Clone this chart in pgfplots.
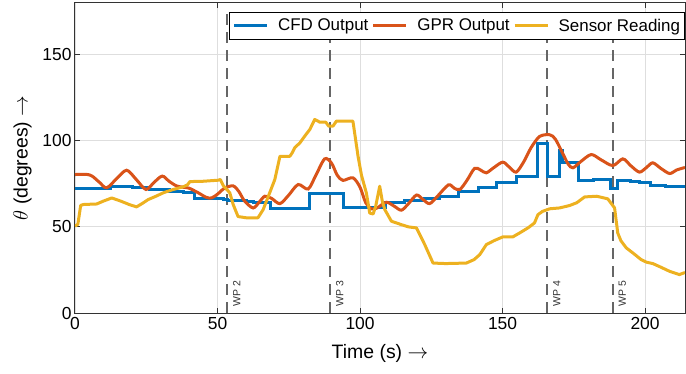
\documentclass[border=0pt]{standalone}
\usepackage{fontspec}
\setmainfont{Liberation Sans}
\usepackage{pgfplots}
\pgfplotsset{compat=1.18}
\definecolor{mblue}{rgb}{0,0.447,0.741}
\definecolor{morange}{rgb}{0.85,0.325,0.098}
\definecolor{myellow}{rgb}{0.929,0.694,0.125}
\begin{document}
\begin{tikzpicture}
\begin{axis}[
  width=610bp, height=310bp, scale only axis,
  xmin=0, xmax=214, ymin=0, ymax=180,
  xtick={0,50,100,150,200}, ytick={0,50,100,150},
  grid=major, major grid style={draw=black!13, line width=0.8bp},
  axis line style={draw=black!80, line width=1bp},
  tick style={draw=black!80, line width=1bp}, major tick length=5bp, tick align=inside,
  /pgf/number format/assume math mode=true,
  tick label style={font=\fontsize{17.5}{20}\selectfont},
  xticklabel style={yshift=-1bp},
  label style={font=\fontsize{19.5}{22}\selectfont},
  xlabel={Time (s) $\rightarrow$}, ylabel={$\theta$ (degrees) $\rightarrow$},
  xlabel style={yshift=-8bp},
  ylabel style={yshift=4bp},
  legend columns=3,
  legend style={at={(1,0.971)}, anchor=north east, draw=black, line width=0.8bp, fill=white,
    font=\fontsize{17}{20}\selectfont, inner xsep=3bp, inner ysep=5bp,
    nodes={inner sep=1.5bp},
    /tikz/every even column/.append style={column sep=2bp},
    /tikz/every odd column/.append style={column sep=8bp}},
  legend image code/.code={\draw[#1, line width=3bp] (0bp,0bp) -- (33bp,0bp);},
]
% waypoint lines
\addplot[forget plot, black!60, line width=2bp, dash pattern=on 11bp off 7bp] coordinates {(53.3,0) (53.3,175)};
\addplot[forget plot, black!60, line width=2bp, dash pattern=on 11bp off 7bp] coordinates {(89.5,0) (89.5,175)};
\addplot[forget plot, black!60, line width=2bp, dash pattern=on 11bp off 7bp] coordinates {(165.6,0) (165.6,175)};
\addplot[forget plot, black!60, line width=2bp, dash pattern=on 11bp off 7bp] coordinates {(188.6,0) (188.6,175)};

% CFD output
\addplot[const plot, mblue, line width=3bp] coordinates {
(0,72)(12.3,73.3)(20,72.7)(26,71.7)(33,70.7)(38,69.8)(42,66.4)(52,66)(53.5,65.3)(60,64.7)(62.5,64)
(68.6,60.8)(82.3,69.4)(94.3,61)(109,64)(115.7,65.5)(122.7,66.5)(128,67.8)(134.4,70.3)(141.4,72.6)
(148,76)(155,79.4)(162.3,98.4)(165.9,79.4)(170,94.5)(171,87.2)(176.8,77)(182,77.8)(185,77.3)
(188,72)(190.4,77)(195,76.2)(198,75.5)(202,73.8)(207,73.2)(214,72.5)};
\addlegendentry{CFD Output}

% GPR output
\addplot[smooth, morange, line width=3bp] coordinates {
(0,80.4)(4,80.5)(6,79.5)(8.5,76)(11.1,72.7)(14.5,77.8)(18.1,82.9)(21.5,77.5)(24.9,71.7)(27.7,75.8)
(30.6,79.5)(33,76.5)(35.6,73.8)(38,73)(40,72.5)(43,70)(46,67.2)(47.9,66.8)(50,69)(52.5,72.5)
(55.5,73.8)(57.5,70.5)(59.5,65)(62.5,61)(64.7,64.5)(66.6,67.8)(69,66.5)(71.9,63.5)(75,68.5)
(78.3,74.6)(81.8,72)(84.5,80)(87.6,89.5)(90,87)(92,80)(94,77)(97.5,78.5)(100,73)(102,64)
(104,60.5)(106,61)(109.2,64.3)(112,62)(114.5,59.7)(117,63.5)(119.8,68.5)(122,66)(124.4,63.5)
(127,67.5)(131,74.4)(133,72.5)(135,71.7)(137.5,77)(140.2,84)(142.3,83)(144.3,81.4)(147,84.5)
(150.1,87.6)(152.5,84.5)(154.8,81.8)(157.5,88)(160,96)(163,102.5)(166.5,103.5)(168.5,101)
(171,93)(173,86.5)(174.7,84.3)(177.5,88)(181.1,92)(184.5,89)(188.7,85.6)(192.2,89.5)(195,85.5)
(198,81.8)(200.5,84.5)(202.7,87.2)(205.5,84)(208.6,81)(211,83)(214,84.5)};
\addlegendentry{GPR Output}

% Sensor reading
\addplot[myellow, line width=3bp, line join=round] coordinates {
(0,50.4)(1,51.5)(2,62.5)(3,63)(7.6,63.3)(10,65)(12.9,66.8)(16,65)(19,63)(21.6,61.6)(23.5,63.5)
(25.7,65.9)(28,67.5)(31,69.8)(34,71.5)(38,73.3)(39.5,74.5)(40.3,76.3)(45,76.5)(50.2,77.1)(51,77.5)
(52,74)(54.3,69.8)(55.5,63)(57.2,56)(60,55.3)(64.2,55.3)(66,60)(68.3,69.8)(70.1,77.5)(71.9,91)
(75.4,91)(76.2,93)(77.1,96)(78.9,98.8)(80.6,102.7)(82.4,106.6)(84.1,112.4)(85.9,110.8)(88,110.8)
(89,108.5)(90.5,108.5)(91.7,111.4)(97.5,111.4)(99.3,91)(100.5,80)(102.2,69.8)(103.4,58)(104.6,57.5)
(105.5,62)(106.9,73.6)(107.8,65)(108.7,60)(111,53.3)(114.5,51.3)(117,50)(119.8,49.4)(122.7,39.7)
(125.6,29)(130,28.7)(137.3,29)(140,31)(142,33.9)(144.3,39.7)(147,42)(150.1,44.2)(153.6,44.2)
(156,46.5)(159,49.5)(161.2,52.3)(162.4,57.1)(164,59)(166.5,60.5)(170,61)(173.5,62.4)(176,64)
(178.8,67.4)(183,67.8)(186.9,66.3)(189.3,61)(190.4,46.5)(191.5,42)(193.4,37.8)(196,34.5)
(198.6,31)(200.5,29.5)(202.7,28.7)(205,27)(208.6,24.2)(212,22.3)(214,23.5)};
\addlegendentry{Sensor Reading}

\node[rotate=90, anchor=north west, font=\fontsize{10.5}{12}\selectfont, text=black!80, inner sep=1bp] at (axis cs:55,3) {WP 2};
\node[rotate=90, anchor=north west, font=\fontsize{10.5}{12}\selectfont, text=black!80, inner sep=1bp] at (axis cs:91.2,3) {WP 3};
\node[rotate=90, anchor=north west, font=\fontsize{10.5}{12}\selectfont, text=black!80, inner sep=1bp] at (axis cs:167.3,3) {WP 4};
\node[rotate=90, anchor=north west, font=\fontsize{10.5}{12}\selectfont, text=black!80, inner sep=1bp] at (axis cs:190.3,3) {WP 5};
\end{axis}
\pgfresetboundingbox
\path ([xshift=-75bp,yshift=-61bp]current axis.south west) rectangle ([xshift=1bp,yshift=3bp]current axis.north east);
\end{tikzpicture}
\end{document}
